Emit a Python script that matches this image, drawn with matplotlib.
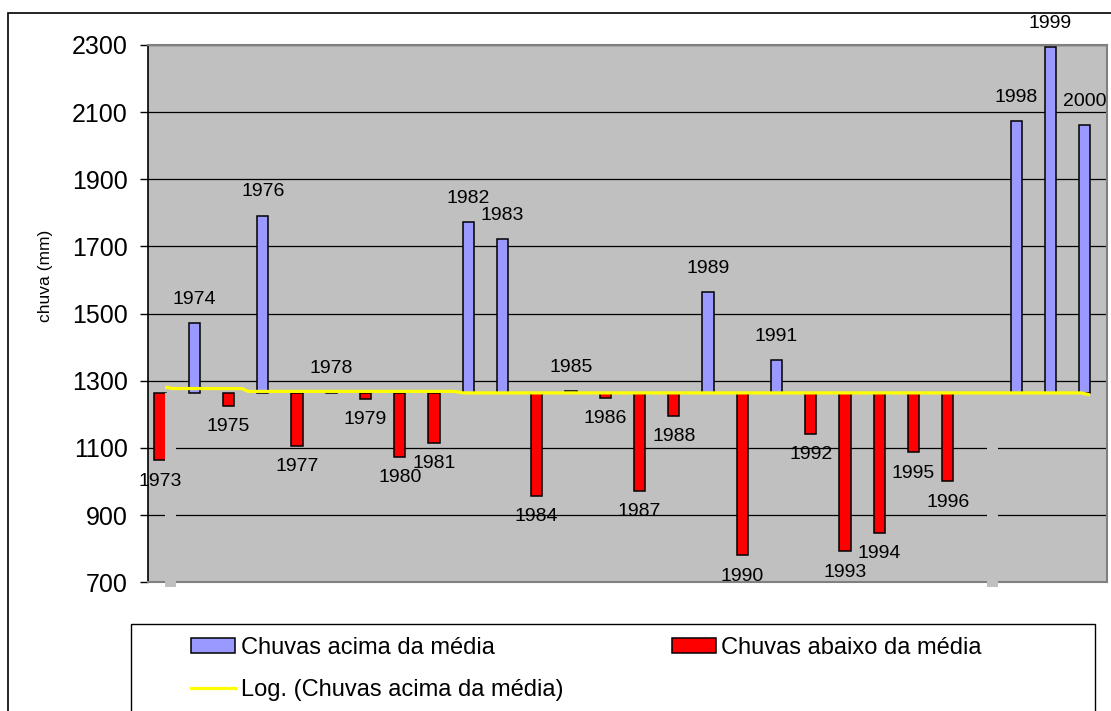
import matplotlib.pyplot as plt
from matplotlib.patches import Patch, Rectangle
from matplotlib.lines import Line2D
import numpy as np

plt.rcParams['font.family'] = ['Liberation Sans', 'DejaVu Sans']

years = [str(y) for y in range(1973, 2001)]
chuva = [1063, 1471, 1225, 1792, 1106, 1266, 1247, 1074, 1115, 1772,
         1723, 958, 1270, 1250, 973, 1196, 1565, 780, 1361, 1142,
         793, 847, 1087, 1001, None, 2074, 2293, 2062]
media = 1264

# gray series (same colour as the plot area) that sits in the second slot
oculto_anos = ['1973', '1997']
oculto_vals = [687, 687]

# logarithmic trend line: category position, value
trend_pos = [0.0, 0.23, 2.24, 2.42, 8.46, 8.7, 26.75, 27.0]
trend_val = [1281, 1277, 1277, 1268.5, 1268.5, 1264, 1264, 1258]

azul = '#9999FF'
vermelho = '#FF0000'
fundo = '#C0C0C0'

W, H = 1111, 711
fig = plt.figure(figsize=(W / 100, H / 100), dpi=100)
ax = fig.add_axes([148 / W, 1 - 582.3 / H, 959 / W, 537.3 / H])
ax.set_facecolor(fundo)

x = np.arange(len(years))
idx_up = [i for i, v in enumerate(chuva) if v is not None and v >= media]
idx_dn = [i for i, v in enumerate(chuva) if v is not None and v < media]

off, bw = 0.15, 0.33
ax.bar(x[idx_up] - off, [chuva[i] - media for i in idx_up], bottom=media,
       width=bw, color=azul, edgecolor='black', linewidth=1.1, zorder=2)
ax.bar(x[idx_dn] - off, [chuva[i] - media for i in idx_dn], bottom=media,
       width=bw, color=vermelho, edgecolor='black', linewidth=1.1, zorder=2)

gx = [years.index(a) for a in oculto_anos]
ax.bar(np.array(gx) + off, [v - media for v in oculto_vals], bottom=media,
       width=0.32, color=fundo, linewidth=0, zorder=2.6, clip_on=False)

ax.plot(trend_pos, trend_val, color='#FFFF00', lw=2.3, zorder=4,
        solid_capstyle='butt')

for i in idx_up:
    ax.annotate(years[i], (x[i] - off, chuva[i]), xytext=(0, 17.0),
                textcoords='offset points', ha='center', va='center',
                fontsize=14, color='black', zorder=5)
for i in idx_dn:
    ax.annotate(years[i], (x[i] - off, chuva[i]), xytext=(0, -15.1),
                textcoords='offset points', ha='center', va='center',
                fontsize=14, color='black', zorder=5)

ax.set_xlim(-0.5, len(years) - 0.5)
ax.set_ylim(700, 2300)
ax.set_yticks(range(700, 2301, 200))
ax.set_axisbelow(True)
ax.yaxis.grid(True, color='black', linewidth=0.9)
ax.tick_params(axis='y', direction='out', length=5.8, width=1, pad=8.8,
               labelsize=18, colors='black')
ax.tick_params(axis='x', bottom=False, labelbottom=False)

for s in ['top', 'right', 'bottom']:
    ax.spines[s].set_color('#808080')
    ax.spines[s].set_linewidth(1.5)
ax.spines['left'].set_color('black')
ax.spines['left'].set_linewidth(1.2)

ax.set_ylabel('chuva (mm)', fontsize=12.5)
ax.yaxis.set_label_coords(-0.099, 0.571)

# outer chart border and legend box
fig.patches.append(Rectangle((8 / W, -0.1), 1.2, 1.1 - 12.5 / H,
                             transform=fig.transFigure, fill=False,
                             edgecolor='black', linewidth=1.2))
fig.patches.append(Rectangle((131 / W, -0.1), (1095 - 131) / W,
                             0.1 + 1 - 624 / H, transform=fig.transFigure,
                             fill=False, edgecolor='black', linewidth=1.0))

handles = [Patch(facecolor=azul, edgecolor='black', linewidth=1.1),
           Line2D([], [], color='#FFFF00', lw=2.3),
           Patch(facecolor=vermelho, edgecolor='black', linewidth=1.1)]
labels = ['Chuvas acima da média', 'Log. (Chuvas acima da média)',
          'Chuvas abaixo da média']
fig.legend(handles, labels, loc='upper left',
           bbox_to_anchor=(190.7 / W, 1 - 637 / H), ncol=2, frameon=False,
           fontsize=17, borderpad=0, borderaxespad=0, handlelength=1.86,
           handleheight=0.6, handletextpad=0.25, columnspacing=4.6,
           labelspacing=0.86)

fig.savefig('out.png', dpi=100)
